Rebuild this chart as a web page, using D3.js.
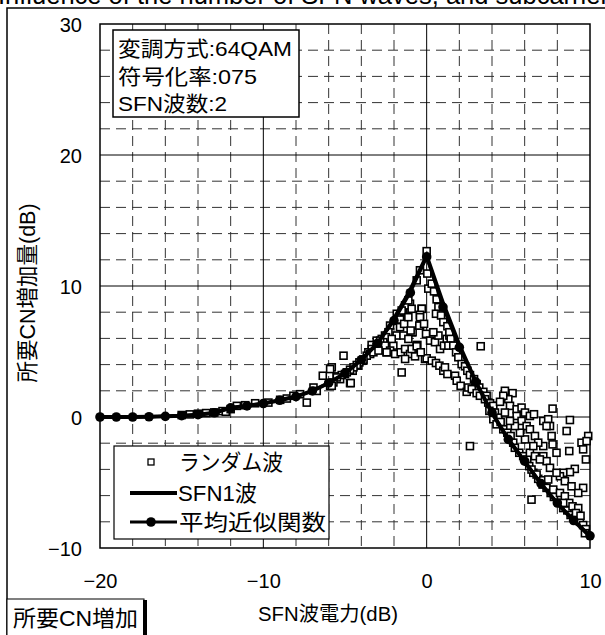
<!DOCTYPE html>
<html>
<head>
<meta charset="utf-8">
<script src="https://cdn.jsdelivr.net/npm/d3@7"></script>
<style>
  html, body { margin: 0; padding: 0; background: #fff; }
  svg { display: block; }
  text { font-family: "Liberation Sans", Arial, "Noto Sans CJK JP", sans-serif; fill: #000; }
</style>
</head>
<body>
<svg id="chart" width="605" height="635"></svg>
<script>
// SFN wave power (dB) vs. required C/N increase (dB)
const xTicks = [-20, -10, 0, 10];
const yTicks = [-10, 0, 10, 20, 30];

// 平均近似関数 (averaged approximation), 1 dB steps
const avgX = [-20,-19,-18,-17,-16,-15,-14,-13,-12,-11,-10,-9,-8,-7,-6,-5,-4,-3,-2,-1,0,1,2,3,4,5,6,7,8,9,10];
const avgY = [0.0,0.0,0.0,0.02,0.05,0.1,0.18,0.32,0.7,0.85,1.03,1.28,1.56,1.99,2.6,3.33,4.37,5.63,7.36,9.49,12.22,8.39,5.32,2.68,0.34,-1.71,-3.37,-5.08,-6.56,-7.9,-9.07];

// SFN1波 (single SFN wave)
const sfnX = [-20,-19,-18,-17,-16,-15,-14,-13,-12,-11,-10,-9,-8,-7,-6,-5,-4,-3,-2,-1,0,1,2,3,4,5,6,7,8,9,10];
const sfnY = [0.0,0.0,0.0,0.02,0.05,0.1,0.18,0.32,0.7,0.85,1.03,1.28,1.56,1.99,2.6,3.33,4.37,5.63,7.5,9.7,12.3,8.7,5.5,2.7,0.3,-1.7,-3.4,-5.1,-6.6,-7.9,-9.1];

// ランダム波 (random waves) measurements
const rndX = [
  -15,-14.5,-14,-13.5,-13,-12.5,-12.3,-12,
  -11.62,-11.11,-10.5,-9.69,-8.97,-8.56,-8.16,-7.75,-7.34,-6.93,-6.73,-6.36,-5.91,-5.81,-5.51,-5.3,-5.0,-4.69,-4.53,-4.18,-3.88,-3.57,-3.37,-3.06,-2.75,-2.55,-2.45,-2.04,-1.84,-1.63,-1.53,-1.43,-1.02,-0.92,-0.82,-0.61,-0.41,-0.31,-0.1,0.1,-1.53,
  -1.83,-1.63,-1.38,-1.32,-1.12,-0.61,-0.41,-2.24,-2.34,-2.49,-2.14,-2.65,-2.85,-2.55,-3.06,-3.36,-3.46,-3.67,-3.26,-3.87,-4.12,-4.28,-4.48,-4.69,-4.89,-5.09,-5.2,-5.5,-5.71,-5.91,-5.81,-4.65,
  -2.24,-1.93,-1.59,-1.32,-1.02,-0.71,-1.32,-0.92,-2.45,-2.95,
  -1.53,-0.92,-0.3,-0.41,-0.86,-0.98,-1.42,-1.12,-0.57,-0.61,-0.04,0.21,0.51,0.82,1.06,1.23,1.39,0.72,0.41,-0.41,-0.45,-0.16,-1.12,
  0.0,0.04,0.31,0.45,0.61,0.72,0.57,0.88,1.02,1.27,1.39,1.47,1.33,1.63,1.8,1.94,2.14,2.35,2.49,2.65,2.9,3.06,3.22,3.47,3.67,3.77,3.98,
  0.0,-0.36,0.31,0.57,0.78,1.02,1.12,1.27,1.74,1.84,2.08,2.45,2.55,2.76,3.06,3.26,3.57,3.88,4.08,3.84,4.18,4.39,
  4.08,4.28,4.53,4.69,4.94,5.14,5.3,5.4,5.67,5.91,6.16,6.28,6.53,6.83,7.1,7.34,7.59,7.79,8.12,8.36,8.61,8.81,9.07,9.38,9.58,9.75,9.69,
  6.42,6.73,7.14,7.44,7.75,8.16,8.46,8.73,8.93,9.28,9.14,9.42,8.36,
  4.79,5.26,5.0,4.69,4.49,5.1,5.51,5.81,6.02,6.32,6.57,7.14,7.44,7.71,8.77,8.57,7.55,7.34,7.65,7.14,7.71,7.95,8.73,9.07,8.77,8.36,9.48,9.58,9.89,9.79,9.75,9.58,6.42,2.65,3.31,
  5.51,5.81,6.12,6.32,6.63,6.83,7.14,7.34,7.55,8.16,8.46,8.87,9.28,6.32,6.63,6.93,7.95,6.53,6.02,5.71,5.4,5.1,4.79
];
const rndY = [
  0.15,0.2,0.25,0.3,0.35,0.45,0.4,0.6,
  0.85,0.9,1.05,1.1,1.31,1.41,1.62,1.74,1.1,2.25,1.99,3.15,2.38,3.79,3.1,2.89,3.28,2.59,3.53,3.92,4.3,4.94,5.5,5.83,5.96,6.22,4.94,5.45,6.22,6.86,7.5,8.13,8.65,6.47,5.19,5.45,6.98,8.26,4.43,9.8,3.4,
  7.88,7.44,7.11,8.52,8.9,10.43,11.2,6.98,6.47,6.09,5.96,5.71,5.83,5.45,5.32,5.19,4.81,4.68,4.94,4.38,4.17,3.97,3.79,3.61,3.41,4.68,3.2,3.02,2.64,3.66,2.38,2.59,
  5.07,4.81,4.94,5.19,4.81,4.63,4.43,5.19,4.94,5.07,
  8.13,8.26,8.26,7.8,6.47,6.6,6.22,5.96,5.5,5.4,6.35,5.83,5.71,5.19,5.45,5.96,6.22,6.22,6.47,7.62,6.98,7.11,7.62,
  12.66,10.95,10.18,9.59,8.98,8.39,7.88,7.75,7.24,6.93,6.47,5.96,5.45,5.45,4.94,4.56,4.04,3.87,3.53,3.2,2.89,2.51,2.25,1.92,1.62,1.1,0.85,
  4.48,4.94,4.3,4.12,3.92,3.53,3.79,3.28,3.15,2.77,2.38,1.92,2.25,2.13,1.82,1.62,1.36,1.05,0.85,0.47,0.34,-0.05,
  -0.17,-0.56,-0.38,-0.94,-1.2,-1.45,-1.96,-2.35,-2.73,-2.99,-3.24,-3.75,-4.26,-4.72,-5.16,-5.41,-5.8,-6.1,-6.56,-6.95,-7.13,-7.48,-7.71,-7.97,-8.25,-8.56,-8.87,
  -4.01,-4.39,-4.83,-4.77,-5.54,-5.8,-6.05,-6.56,-6.82,-6.95,-7.33,-7.54,-6.56,
  2.0,1.82,1.36,1.62,1.16,0.85,0.59,0.72,0.34,0.08,0.21,-0.3,-0.17,0.64,-0.23,-1.07,-0.69,-0.69,-1.45,-2.22,-2.09,-2.73,-2.6,-3.96,-4.21,-4.26,-1.96,-2.47,-1.45,-1.84,-3.24,-5.41,-6.31,-2.22,5.4,
  0.08,-0.3,-0.69,-0.94,-1.45,-1.96,-2.99,-3.37,-3.88,-4.52,-4.9,-5.29,-5.8,-2.73,-2.99,-3.24,-4.26,-2.22,-1.71,-1.2,-0.69,-0.3,0.34
];

const legendLabels = ["ランダム波", "SFN1波", "平均近似関数"];
const legendWidths = [104, 79, 147];
const infoLines = ["変調方式:64QAM", "符号化率:075", "SFN波数:2"];
const infoWidths = [174, 139, 109];

const svg = d3.select("#chart");

const plot = { left: 100, right: 590, top: 24, bottom: 548 };
const x = d3.scaleLinear().domain([-20, 10]).range([plot.left, plot.right]);
const y = d3.scaleLinear().domain([-10, 30]).range([plot.bottom, plot.top]);

// caption running off the top edge
svg.append("text")
  .attr("x", -2).attr("y", 4)
  .style("font-size", "25.5px")
  .text("Influence of the number of SFN waves, and subcarrier spacing");

// outer frame
svg.append("path")
  .attr("d", "M7,640 L7,8 L610,8")
  .attr("fill", "none").attr("stroke", "#000").attr("stroke-width", 1.5);

// minor dashed grid (2 dB steps)
const minorX = d3.range(-18, 10, 2).filter(v => v % 10 !== 0);
const minorY = d3.range(-8, 30, 2).filter(v => v % 10 !== 0);
const grid = svg.append("g");
grid.selectAll("line.mx").data(minorX).join("line")
  .attr("x1", d => x(d)).attr("x2", d => x(d))
  .attr("y1", plot.top).attr("y2", plot.bottom)
  .attr("stroke", "#333").attr("stroke-width", 1).attr("stroke-dasharray", "10,6");
grid.selectAll("line.my").data(minorY).join("line")
  .attr("y1", d => y(d)).attr("y2", d => y(d))
  .attr("x1", plot.left).attr("x2", plot.right)
  .attr("stroke", "#333").attr("stroke-width", 1).attr("stroke-dasharray", "10,6");

// major solid grid
grid.selectAll("line.Mx").data(xTicks.slice(1, -1)).join("line")
  .attr("x1", d => x(d)).attr("x2", d => x(d))
  .attr("y1", plot.top).attr("y2", plot.bottom)
  .attr("stroke", "#000").attr("stroke-width", 1);
grid.selectAll("line.My").data(yTicks.slice(1, -1)).join("line")
  .attr("y1", d => y(d)).attr("y2", d => y(d))
  .attr("x1", plot.left).attr("x2", plot.right)
  .attr("stroke", "#000").attr("stroke-width", 1);

// plot border
svg.append("rect")
  .attr("x", plot.left).attr("y", plot.top)
  .attr("width", plot.right - plot.left).attr("height", plot.bottom - plot.top)
  .attr("fill", "none").attr("stroke", "#000").attr("stroke-width", 1.5);

// axes (labels only, tick marks hidden)
const fmt = d => d < 0 ? "\u2212" + Math.abs(d) : d;
const xAxis = d3.axisBottom(x).tickValues(xTicks).tickSize(0).tickPadding(0).tickFormat(fmt);
svg.append("g").attr("transform", `translate(0,${plot.bottom + 40})`)
  .call(xAxis)
  .call(g => g.select(".domain").remove())
  .call(g => g.selectAll("text").attr("dy", 0).style("font-size", "20px").attr("font-family", null));

const yAxis = d3.axisLeft(y).tickValues(yTicks).tickSize(0).tickPadding(0).tickFormat(fmt);
svg.append("g").attr("transform", `translate(82,0)`)
  .call(yAxis)
  .call(g => g.select(".domain").remove())
  .call(g => g.selectAll("text").attr("dy", "0.35em").style("font-size", "20px").attr("font-family", null));

// axis titles
svg.append("text")
  .attr("x", 328).attr("y", 621).attr("text-anchor", "middle")
  .attr("textLength", 140).attr("lengthAdjust", "spacingAndGlyphs")
  .style("font-size", "20px").text("SFN波電力(dB)");
svg.append("text")
  .attr("transform", "translate(35,293) rotate(-90)").attr("text-anchor", "middle")
  .style("font-size", "21.5px").text("所要CN増加量(dB)");

// data marks
const marks = svg.append("g");

const rnd = rndX.map((v, i) => [v, rndY[i]]);
marks.selectAll("rect.rnd").data(rnd).join("rect")
  .attr("x", d => x(d[0]) - 3.5).attr("y", d => y(d[1]) - 3.5)
  .attr("width", 7).attr("height", 7)
  .attr("fill", "#fff").attr("stroke", "#000").attr("stroke-width", 1.6);

const line = d3.line().x(d => x(d[0])).y(d => y(d[1]));
const sfn = sfnX.map((v, i) => [v, sfnY[i]]);
marks.append("path").datum(sfn)
  .attr("d", line).attr("fill", "none").attr("stroke", "#000").attr("stroke-width", 4);

const avg = avgX.map((v, i) => [v, avgY[i]]);
marks.append("path").datum(avg)
  .attr("d", line).attr("fill", "none").attr("stroke", "#000").attr("stroke-width", 3);
marks.selectAll("circle.avg").data(avg).join("circle")
  .attr("cx", d => x(d[0])).attr("cy", d => y(d[1])).attr("r", 4.8).attr("fill", "#000");

// info box
const info = svg.append("g");
info.append("rect").attr("x", 113).attr("y", 30).attr("width", 186).attr("height", 87)
  .attr("fill", "#fff").attr("stroke", "#000").attr("stroke-width", 1.5);
info.selectAll("text").data(infoLines).join("text")
  .attr("x", 118).attr("y", (d, i) => 56 + i * 27.5)
  .attr("textLength", (d, i) => infoWidths[i]).attr("lengthAdjust", "spacingAndGlyphs")
  .style("font-size", "21px").text(d => d);

// legend
const lg = svg.append("g");
lg.append("rect").attr("x", 114).attr("y", 446).attr("width", 215).attr("height", 93)
  .attr("fill", "#fff").attr("stroke", "#000").attr("stroke-width", 1.2);
const ly = [462, 493, 522];
lg.append("rect").attr("x", 148).attr("y", ly[0] - 3).attr("width", 6).attr("height", 6)
  .attr("fill", "#fff").attr("stroke", "#000").attr("stroke-width", 1.3);
lg.append("line").attr("x1", 130).attr("x2", 177).attr("y1", ly[1]).attr("y2", ly[1])
  .attr("stroke", "#000").attr("stroke-width", 4);
lg.append("line").attr("x1", 130).attr("x2", 177).attr("y1", ly[2]).attr("y2", ly[2])
  .attr("stroke", "#000").attr("stroke-width", 3);
lg.append("circle").attr("cx", 151).attr("cy", ly[2]).attr("r", 4.8).attr("fill", "#000");
lg.selectAll("text").data(legendLabels).join("text")
  .attr("x", (d, i) => i === 1 ? 178 : 179).attr("y", (d, i) => ly[i] + 8)
  .attr("textLength", (d, i) => legendWidths[i]).attr("lengthAdjust", "spacingAndGlyphs")
  .style("font-size", "22px").text(d => d);

// bottom-left tag
const tag = svg.append("g");
tag.append("rect").attr("x", 7).attr("y", 599).attr("width", 137).attr("height", 45)
  .attr("fill", "#fff").attr("stroke", "#000").attr("stroke-width", 1);
tag.append("rect").attr("x", 143).attr("y", 600).attr("width", 4).attr("height", 40).attr("fill", "#000");
tag.append("text").attr("x", 13).attr("y", 626)
  .attr("textLength", 125).attr("lengthAdjust", "spacingAndGlyphs")
  .style("font-size", "22px").text("所要CN増加");
</script>
</body>
</html>
